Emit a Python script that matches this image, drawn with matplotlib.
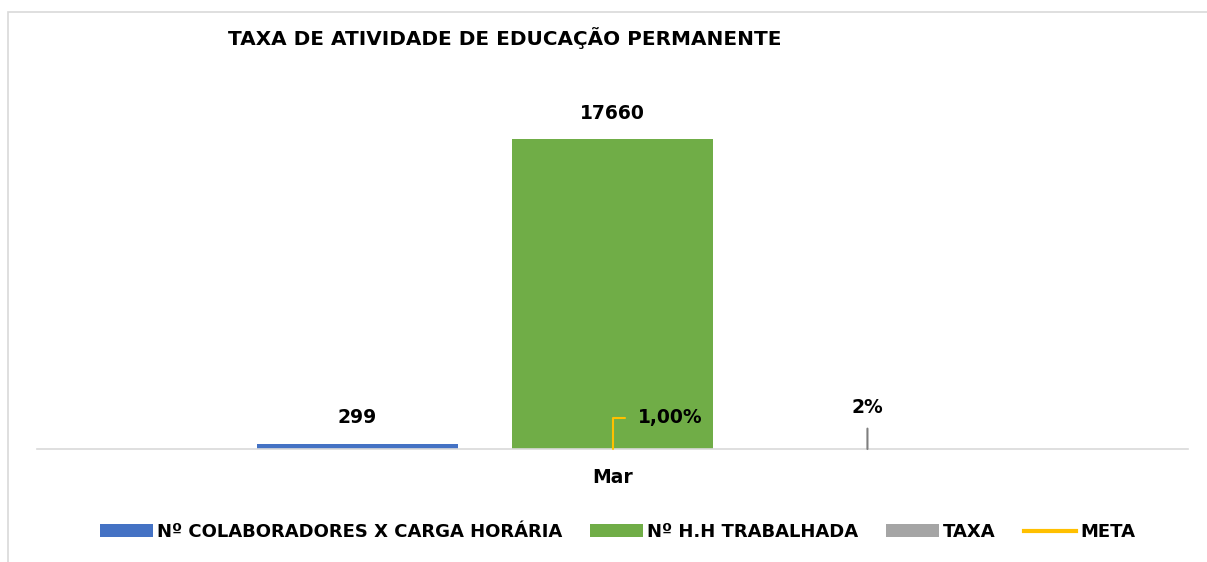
import matplotlib.pyplot as plt
from matplotlib.patches import Rectangle

# dados do gráfico
categorias = ["Mar"]
colaboradores_x_carga = [299]
hh_trabalhada = [17660]
taxa = [0.02]
meta = [0.01]
rotulos_series = ["Nº COLABORADORES X CARGA HORÁRIA", "Nº H.H TRABALHADA", "TAXA", "META"]
titulo = "TAXA DE ATIVIDADE DE EDUCAÇÃO PERMANENTE"

azul = "#4472C4"
verde = "#70AD47"
cinza = "#A5A5A5"
amarelo = "#FFC000"

plt.rcParams["font.family"] = ["DejaVu Sans"]

fig = plt.figure(figsize=(12.07, 5.62), dpi=100)
ax = fig.add_axes([37 / 1207, 1 - 449 / 562, (1188 - 37) / 1207, (449 - 98) / 562])

# moldura do gráfico (cortada à direita e embaixo)
fig.patches.append(Rectangle((8 / 1207, -0.1), 1.2, 1 - 12 / 562 + 0.1,
                             transform=fig.transFigure, fill=False,
                             edgecolor="#D9D9D9", linewidth=1.2))

x = list(range(len(categorias)))
largura = 0.174
desloc = 0.2215

b1 = ax.bar([i - desloc for i in x], colaboradores_x_carga, largura, color=azul, label=rotulos_series[0])
b2 = ax.bar(x, hh_trabalhada, largura, color=verde, label=rotulos_series[1])
b3 = ax.bar([i + desloc for i in x], taxa, largura, color=cinza, label=rotulos_series[2])
l4, = ax.plot(x, meta, color=amarelo, linewidth=3, label=rotulos_series[3])

fonte = dict(fontsize=13.5, fontweight="bold", color="black")

for xi, v in zip([i - desloc for i in x], colaboradores_x_carga):
    ax.annotate(str(v), xy=(xi, v), xytext=(0, 26), textcoords="offset pixels",
                ha="center", va="center", **fonte)
for xi, v in zip(x, hh_trabalhada):
    ax.annotate(str(v), xy=(xi, v), xytext=(0, 26), textcoords="offset pixels",
                ha="center", va="center", **fonte)

# rótulo da taxa com linha de chamada
for xi, v in zip([i + desloc for i in x], taxa):
    ax.annotate(f"{v:.0%}", xy=(xi, v), xytext=(0, 41), textcoords="offset pixels",
                ha="center", va="center", **fonte,
                arrowprops=dict(arrowstyle="-", color="#7F7F7F", lw=1.5,
                                relpos=(0.5, 0), shrinkA=6, shrinkB=0))

# rótulo da meta com linha de chamada
for xi, v in zip(x, meta):
    ax.annotate(f"{v:.2%}".replace(".", ","), xy=(xi, v), xytext=(25, 31),
                textcoords="offset pixels", ha="left", va="center", **fonte,
                arrowprops=dict(arrowstyle="-", color=amarelo, lw=1.5, relpos=(0, 0.5),
                                connectionstyle="angle,angleA=0,angleB=90,rad=0",
                                shrinkA=7, shrinkB=0))

ax.set_xlim(-0.5, 0.5)
ax.set_ylim(0, 20000)
ax.set_xticks(x)
ax.set_xticklabels(categorias, fontsize=13.5, fontweight="bold")
ax.tick_params(axis="x", length=0, pad=14)
ax.set_yticks([])
for lado in ["top", "right", "left"]:
    ax.spines[lado].set_visible(False)
ax.spines["bottom"].set_color("#D9D9D9")
ax.spines["bottom"].set_linewidth(1.2)

fig.text(228 / 1207, 1 - 38 / 562, titulo, ha="left", va="center", fontsize=14.4, fontweight="bold")

fig.legend(handles=[b1, b2, b3, l4], labels=rotulos_series, loc="center",
           bbox_to_anchor=(618 / 1207, 1 - 532 / 562), ncol=4, frameon=False,
           prop=dict(size=13, weight="bold"), handlelength=2.9, handleheight=0.75,
           handletextpad=0.25, columnspacing=1.55)

fig.savefig("out.png", dpi=100)
